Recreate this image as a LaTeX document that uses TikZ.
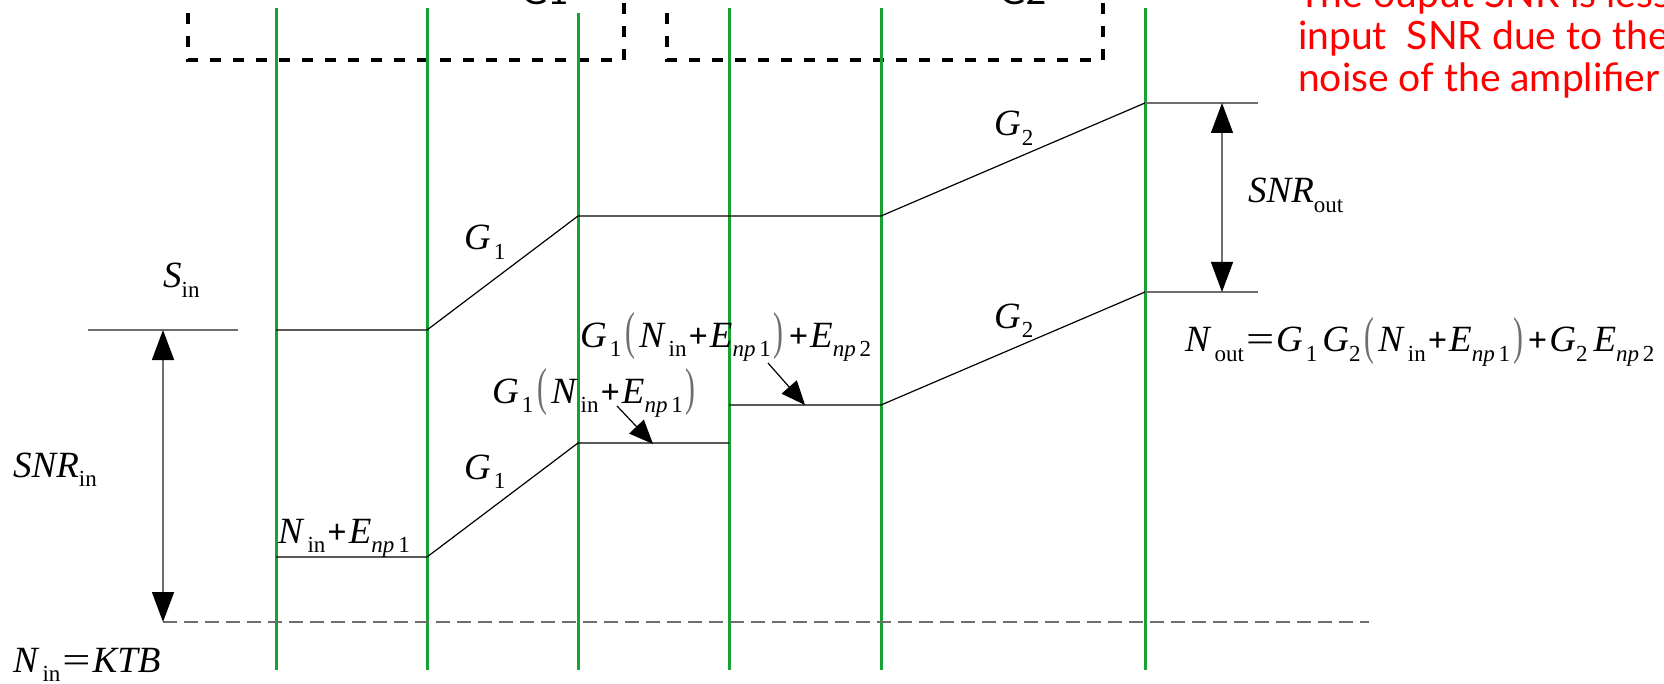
\documentclass[tikz,border=0pt]{standalone}
\usepackage{fontspec}
\setmainfont{Liberation Serif}
\newfontfamily\latofont{Lato}
\usepackage{graphicx}
\usetikzlibrary{arrows.meta}
\definecolor{grn}{RGB}{22,163,52}
\definecolor{lgray}{RGB}{110,110,110}
\newcommand{\mi}[1]{\textit{#1}}
\newcommand{\sbs}[1]{\raisebox{-0.26em}{\fontsize{23}{23}\selectfont #1}}
\newcommand{\pl}{\kern2pt\scalebox{0.92}{\textbf{+}}\kern2pt}
\newcommand{\eq}{\kern2pt\scalebox{1.35}[1]{=}\kern2pt}
\newcommand{\lpar}{\kern4pt{\color{lgray}\raisebox{-0.05em}{\scalebox{0.8}[1.4]{(}}}\kern4pt}
\newcommand{\rpar}{\kern3pt{\color{lgray}\raisebox{-0.05em}{\scalebox{0.8}[1.4]{)}}}\kern3pt}
\begin{document}
\begin{tikzpicture}[x=1pt,y=-1pt,
  mathlbl/.style={font=\fontsize{37}{42}\selectfont, inner sep=0pt, anchor=base west},
  redtxt/.style={font=\latofont\fontsize{39}{42}\selectfont, text=red, inner sep=0pt, anchor=base west},
  boxtitle/.style={font=\latofont\fontsize{36}{40}\selectfont, inner sep=0pt, anchor=base},
  boxline/.style={line width=4pt, dash pattern=on 11pt off 12pt, dash phase=11pt},
  stage/.style={grn, line width=3pt},
  trace/.style={black, line width=1.2pt},
  guide/.style={lgray, line width=1.4pt},
  gap/.style={lgray, line width=1.4pt, {Triangle[length=30pt,width=22pt,color=black]}-{Triangle[length=30pt,width=22pt,color=black]}},
  pointer/.style={black, line width=1.2pt, -{Triangle[length=24pt,width=20pt]}}
]
\useasboundingbox (0,0) rectangle (1664,684);
\clip (0,0) rectangle (1664,684);

% dashed amplifier boxes
\draw[boxline] (188,1) -- (188,60) -- (624,60) -- (624,1);
\draw[boxline] (667,1) -- (667,60) -- (1103,60) -- (1103,1);
\node[boxtitle] (g1box) at (545,5) {G1};
\node[boxtitle] (g2box) at (1023,5) {G2};

% stage boundaries
\foreach \i/\x/\y in {1/276/8,2/427/8,3/578/13,4/729/8,5/881/8,6/1145/8}{
  \coordinate (t\i) at (\x,\y);
  \coordinate (b\i) at (\x,670);
  \draw[stage] (t\i) -- (b\i);
}

% signal path
\coordinate (s0) at (276,330);
\coordinate (s1) at (427,330);
\coordinate (s2) at (578,216);
\coordinate (s3) at (881,216);
\coordinate (s4) at (1145,103);
\draw[trace] (s0) -- (s1) -- (s2) -- (s3) -- (s4);

% noise path
\coordinate (n0) at (276,557);
\coordinate (n1) at (427,557);
\coordinate (n2) at (578,443);
\coordinate (n3) at (729,443);
\coordinate (m0) at (729,405);
\coordinate (m1) at (881,405);
\coordinate (m2) at (1145,292);
\draw[trace] (n0) -- (n1) -- (n2) -- (n3);
\draw[trace] (m0) -- (m1) -- (m2);

% guides
\coordinate (sinL) at (88,330);
\coordinate (sinR) at (238,330);
\coordinate (sinA) at (163,330);
\coordinate (flA) at (163,622);
\coordinate (flR) at (1369,622);
\coordinate (soR) at (1258,103);
\coordinate (noR) at (1258,292);
\coordinate (soA) at (1222,103);
\coordinate (noA) at (1222,292);
\draw[guide] (sinL) -- (sinR);
\draw[guide, dash pattern=on 14pt off 7pt] (flA) -- (flR);
\draw[guide] (s4) -- (soR);
\draw[guide] (m2) -- (noR);
\draw[gap] (sinA) -- (flA);
\draw[gap] (soA) -- (noA);

% labels
\node[mathlbl] (lsin) at (163,288) {\mi{S}\sbs{in}};
\node[mathlbl] (lsnrin) at (13,477) {\mi{SNR}\sbs{in}};
\node[mathlbl] (lnin) at (13,672) {\mi{N}\kern3pt\sbs{in}\eq\mi{KTB}};
\node[mathlbl] (lne) at (278,543) {\mi{N}\kern3pt\sbs{in}\pl\mi{E}\sbs{\mi{np}\,1}};
\node[mathlbl] (lg1a) at (464,250) {\mi{G}\kern3pt\sbs{1}};
\node[mathlbl] (lg1b) at (464,479) {\mi{G}\kern3pt\sbs{1}};
\node[mathlbl] (lg2a) at (994,136) {\mi{G}\kern1pt\sbs{2}};
\node[mathlbl] (lg2b) at (994,328) {\mi{G}\kern1pt\sbs{2}};
\node[mathlbl] (lsnrout) at (1248,203) {\mi{SNR}\sbs{out}};
\node[mathlbl] (lgn) at (492,403) {\mi{G}\kern3pt\sbs{1}\lpar\mi{N}\kern3pt\sbs{in}\pl\mi{E}\sbs{\mi{np}\,1}\rpar};
\node[mathlbl] (lgne) at (580,347) {\mi{G}\kern3pt\sbs{1}\lpar\mi{N}\kern3pt\sbs{in}\pl\mi{E}\sbs{\mi{np}\,1}\rpar\pl\mi{E}\sbs{\mi{np}\,2}};
\node[mathlbl] (lnout) at (1185,352) {\mi{N}\kern3pt\sbs{out}\eq\mi{G}\kern3pt\sbs{1}\kern5pt\mi{G}\sbs{2}\lpar\mi{N}\kern3pt\sbs{in}\pl\mi{E}\sbs{\mi{np}\,1}\rpar\pl\mi{G}\sbs{2}\kern6pt\mi{E}\sbs{\mi{np}\,2}};

% pointers
\coordinate (p1s) at (617,406);
\coordinate (p1e) at (653,444);
\coordinate (p2s) at (768,363);
\coordinate (p2e) at (805,405);
\draw[pointer] (p1s) -- (p1e);
\draw[pointer] (p2s) -- (p2e);

% red note
\node[redtxt] (r1) at (1298,8) {The ouput SNR is less};
\node[redtxt] (r2) at (1298,50) {input\ \ SNR due to the};
\node[redtxt] (r3) at (1298,92) {noise of the amplifier};
\end{tikzpicture}
\end{document}
